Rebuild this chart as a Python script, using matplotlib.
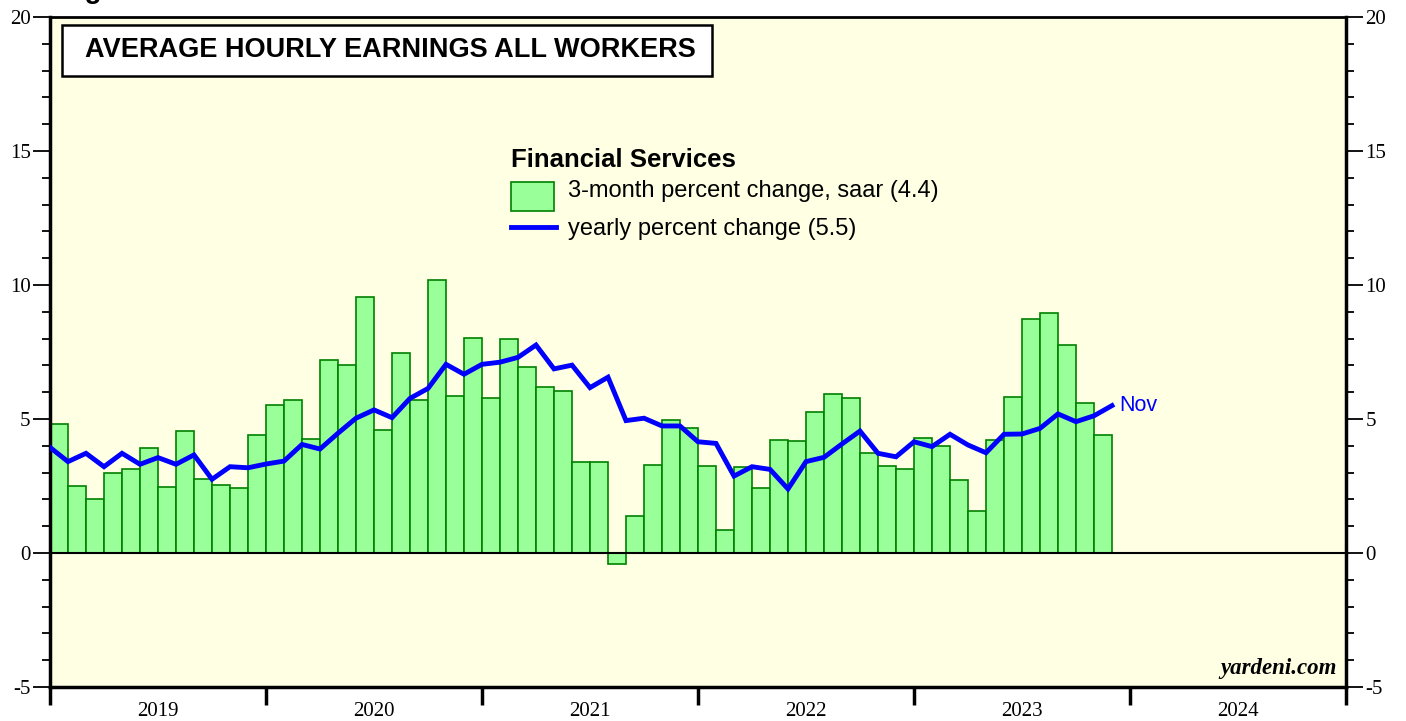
import numpy as np
import matplotlib.pyplot as plt
from matplotlib.patches import Rectangle
from matplotlib.lines import Line2D

# 3-month percent change, saar: Jan 2019 .. Nov 2023
bars_3m = [4.8, 2.5, 2.0, 3.0, 3.15, 3.9, 2.45, 4.55, 2.76, 2.54, 2.43, 4.4,
           5.52, 5.7, 4.25, 7.2, 7.0, 9.55, 4.6, 7.46, 5.7, 10.2, 5.85, 8.02,
           5.78, 8.0, 6.94, 6.2, 6.05, 3.4, 3.4, -0.4, 1.38, 3.28, 4.96, 4.66,
           3.25, 0.86, 3.2, 2.43, 4.22, 4.18, 5.26, 5.93, 5.78, 3.73, 3.25, 3.13,
           4.29, 3.99, 2.72, 1.57, 4.22, 5.82, 8.73, 8.95, 7.76, 5.6, 4.4]

# yearly percent change: Dec 2018 .. Nov 2023 (plotted at month end)
yearly = [3.94, 3.41, 3.72, 3.22, 3.72, 3.31, 3.56, 3.31, 3.66, 2.75, 3.22, 3.18,
          3.32, 3.43, 4.05, 3.88, 4.47, 5.03, 5.34, 5.05, 5.77, 6.14, 7.04, 6.67,
          7.04, 7.12, 7.30, 7.76, 6.87, 7.01, 6.17, 6.56, 4.94, 5.03, 4.74, 4.74,
          4.15, 4.09, 2.87, 3.22, 3.12, 2.39, 3.41, 3.57, 4.07, 4.55, 3.72, 3.59,
          4.15, 3.97, 4.43, 4.03, 3.74, 4.43, 4.44, 4.65, 5.19, 4.90, 5.12, 5.5]

years = ['2019', '2020', '2021', '2022', '2023', '2024']

fig = plt.figure(figsize=(14.06, 7.21), dpi=100)
ax = fig.add_axes([50/1406, 1 - 687/721, 1296/1406, 670/721])
ax.set_facecolor('#FFFFE3')

xb = np.arange(len(bars_3m)) + 0.5
ax.bar(xb, bars_3m, width=1.0, color='#99FF99', edgecolor='#008000', linewidth=1.2, zorder=2)
xl = np.arange(len(yearly))
ax.plot(xl, yearly, color='#0000FF', lw=3.5, zorder=4, solid_joinstyle='miter')
ax.axhline(0, color='black', lw=1.5, zorder=3)

ax.set_xlim(0, 72)
ax.set_ylim(-5, 20)

for s in ax.spines.values():
    s.set_linewidth(2.5)
ax.spines['top'].set_linewidth(2)

# y axis ticks both sides
ax.set_yticks(np.arange(-5, 21, 5))
ax.set_yticks(np.arange(-5, 21, 1), minor=True)
ax.set_yticklabels(['-5', '0', '5', '10', '15', '20'])
ax.tick_params(axis='y', which='major', direction='out', length=12, width=1.3,
               left=True, right=True, labelleft=True, labelright=True,
               labelsize=15, pad=2)
ax.tick_params(axis='y', which='minor', direction='out', length=6, width=1.3,
               left=True, right=True)
for lab in ax.get_yticklabels():
    lab.set_fontfamily('Liberation Serif')

# x axis: year boundaries + centered labels
ax.set_xticks(np.arange(0, 73, 12))
ax.set_xticklabels([])
ax.set_xticks(np.arange(6, 72, 12), minor=True)
ax.set_xticklabels(years, minor=True, fontfamily='Liberation Serif', fontsize=15)
ax.tick_params(axis='x', which='major', direction='out', length=13, width=2.5,
               bottom=True, top=False)
ax.tick_params(axis='x', which='minor', length=0, pad=11, bottom=True, top=False)

# title box
ax.add_patch(Rectangle((12/1296, 1 - 59/670), 650/1296, 51/670, transform=ax.transAxes,
                       facecolor='white', edgecolor='black', lw=1.8, zorder=5))
ax.text(35/1296, 1 - 33/670, 'AVERAGE HOURLY EARNINGS ALL WORKERS',
        transform=ax.transAxes, ha='left', va='center', fontsize=19.5,
        fontweight='bold', family='Liberation Sans', zorder=6)

# legend
ax.text(461/1296, 1 - 143/670, 'Financial Services', transform=ax.transAxes,
        fontsize=18.5, fontweight='bold', family='Liberation Sans', va='center')
ax.add_patch(Rectangle((461/1296, 1 - 194/670), 43/1296, 29/670, transform=ax.transAxes,
                       facecolor='#99FF99', edgecolor='#008000', lw=1.2, zorder=5))
ax.text(518/1296, 1 - 174/670, '3-month percent change, saar (4.4)', transform=ax.transAxes,
        fontsize=17, family='Liberation Sans', va='center')
ax.add_line(Line2D([461/1296, 506/1296], [1 - 210/670, 1 - 210/670], transform=ax.transAxes,
                   color='#0000FF', lw=3.5, zorder=5))
ax.text(518/1296, 1 - 212/670, 'yearly percent change (5.5)', transform=ax.transAxes,
        fontsize=17, family='Liberation Sans', va='center')

ax.annotate('Nov', xy=(xl[-1], yearly[-1]), xytext=(5, 0), textcoords='offset points',
            color='#0000FF', fontsize=15.5, family='Liberation Sans', va='center')

ax.text(0.9925, 0.012, 'yardeni.com', transform=ax.transAxes, ha='right', va='bottom',
        fontsize=16.5, fontweight='bold', fontstyle='italic', family='Liberation Serif')

fig.text(60/1406, 1 + 2/721, 'Figure 6.', fontsize=20, fontweight='bold',
         family='Liberation Sans', va='baseline')

fig.savefig('out.png', dpi=100, facecolor='white')
